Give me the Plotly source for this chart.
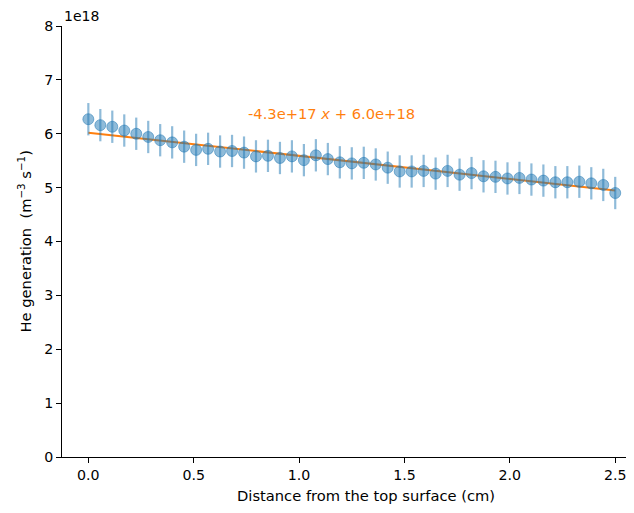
import numpy as np
import plotly.graph_objects as go

# Data (He generation in units of 1e18 m^-3 s^-1)
distance_cm = list(np.linspace(0, 2.5, 45))
he_gen = [6.27, 6.16, 6.13, 6.06, 6.00, 5.94, 5.88, 5.84, 5.76, 5.70,
          5.72, 5.67, 5.68, 5.65, 5.58, 5.59, 5.55, 5.58, 5.51, 5.60,
          5.53, 5.47, 5.45, 5.46, 5.43, 5.37, 5.30, 5.30, 5.31, 5.26,
          5.31, 5.24, 5.27, 5.21, 5.20, 5.17, 5.18, 5.15, 5.13, 5.10,
          5.10, 5.11, 5.08, 5.05, 4.90]
he_err = [0.30] * 45
y_ticks = [0, 1, 2, 3, 4, 5, 6, 7, 8]
x_ticks = [0.0, 0.5, 1.0, 1.5, 2.0, 2.5]

# Linear fit shown in the chart (units of 1e18)
fit_slope = -0.43
fit_intercept = 6.02
fit_x = [distance_cm[0], distance_cm[-1]]
fit_y = [fit_slope * v + fit_intercept for v in fit_x]

FONT = "DejaVu Sans"
BLUE = "rgba(31,119,180,0.5)"
ORANGE = "#ff7f0e"

fig = go.Figure()
fig.add_trace(go.Scatter(x=fit_x, y=fit_y, mode="lines",
                         line=dict(color=ORANGE, width=2), showlegend=False))
fig.add_trace(go.Scatter(
    x=distance_cm, y=he_gen, mode="markers",
    marker=dict(size=11, color=BLUE, line=dict(color=BLUE, width=1)),
    error_y=dict(type="data", array=he_err, color=BLUE, thickness=2.2, width=0),
    showlegend=False))

label = f"{fit_slope*1e18:.1e} <i>x</i> + {fit_intercept*1e18:.1e}"
fig.add_annotation(x=0.75, y=6.38, xref="x", yref="y", text=label,
                   showarrow=False, xanchor="left", yanchor="middle",
                   font=dict(family=FONT, size=14.7, color=ORANGE))
fig.add_annotation(x=0.0, y=1.0, xref="paper", yref="paper", text="1e18",
                   showarrow=False, xanchor="left", yanchor="bottom", yshift=0,
                   font=dict(family=FONT, size=14, color="black"))
fig.add_annotation(x=0.531, y=0, xref="paper", yref="paper",
                   text="Distance from the top surface (cm)",
                   showarrow=False, xanchor="center", yanchor="top", yshift=-28,
                   font=dict(family=FONT, size=14.7, color="black"))
fig.add_annotation(x=-0.0664, y=0.5, xref="paper", yref="paper",
                   text="He generation  (m<sup>−3</sup> s<sup>−1</sup>)",
                   showarrow=False, textangle=-90, xanchor="center", yanchor="middle",
                   font=dict(family=FONT, size=14.7, color="black"))

fig.update_layout(
    width=626, height=505,
    margin=dict(l=54, r=0, t=18, b=56),
    plot_bgcolor="white", paper_bgcolor="white",
    font=dict(family=FONT, size=14, color="black"),
    xaxis=dict(range=[-0.125, 2.589], tickvals=x_ticks,
               ticktext=[f"{v:.1f}" for v in x_ticks], automargin=False,
               showgrid=False, zeroline=False, showline=True, linecolor="black",
               linewidth=1, ticks="outside", ticklen=5, tickcolor="black",
               tickfont=dict(family=FONT, size=14.2)),
    yaxis=dict(range=[0, 8], tickvals=y_ticks, automargin=False,
               ticktext=[str(v) for v in y_ticks],
               showgrid=False, zeroline=False, showline=True, linecolor="black",
               linewidth=1, ticks="outside", ticklen=5, tickcolor="black",
               tickfont=dict(family=FONT, size=14.2)),
)

fig.write_html("out.html")
